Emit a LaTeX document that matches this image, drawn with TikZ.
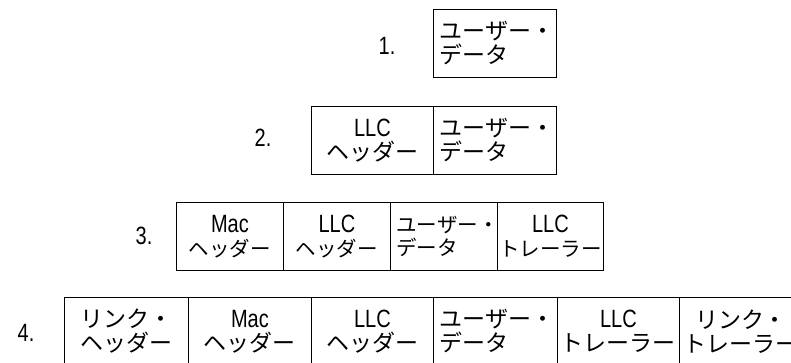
\documentclass[tikz,border=0pt]{standalone}
\usepackage{fontspec}
\setmainfont{Noto Sans CJK JP}
\newfontfamily\latfont[FakeStretch=0.8]{Liberation Sans}
\newcommand{\lt}[1]{{\latfont\fontsize{25}{24}\selectfont #1}}
\begin{document}
\begin{tikzpicture}[x=1pt,y=-1pt,
  cell/.style={draw=black, line width=0.9pt, minimum height=68pt, inner sep=0pt,
    align=center, font=\fontsize{23}{24}\selectfont, anchor=north west},
  lcell/.style={cell, align=left, text width=#1-12pt},
  smalltext/.style={font=\fontsize{20.5}{24}\selectfont},
  num/.style={font=\latfont\fontsize{25}{25}\selectfont, inner sep=0pt}]
\useasboundingbox (0,0) rectangle (791,362);
% row 1
\node[num] (n1) at (387,46) {1.};
\node[lcell=123pt, minimum width=123pt] (r1a) at (433,9) {ユーザー・\\データ};
% row 2
\node[num] (n2) at (263,138) {2.};
\node[cell, minimum width=122pt] (r2a) at (311,106) {\lt{LLC}\\ヘッダー};
\node[lcell=123pt, minimum width=123pt] (r2b) at (433,106) {ユーザー・\\データ};
% row 3
\node[num] (n3) at (144,236) {3.};
\node[cell, smalltext, minimum width=107pt] (r3a) at (176,202) {\lt{Mac}\\ヘッダー};
\node[cell, smalltext, minimum width=107pt] (r3b) at (283,202) {\lt{LLC}\\ヘッダー};
\node[lcell=107pt, smalltext, minimum width=107pt] (r3c) at (390,202) {ユーザー・\\データ};
\node[cell, smalltext, minimum width=106pt] (r3d) at (497,202) {\lt{LLC}\\トレーラー};
% row 4
\node[num] (n4) at (26,333) {4.};
\node[cell, minimum width=124pt] (r4a) at (64,297) {リンク・\\ヘッダー};
\node[cell, minimum width=123pt] (r4b) at (188,297) {\lt{Mac}\\ヘッダー};
\node[cell, minimum width=122pt] (r4c) at (311,297) {\lt{LLC}\\ヘッダー};
\node[lcell=124pt, minimum width=124pt] (r4d) at (433,297) {ユーザー・\\データ};
\node[cell, minimum width=122pt] (r4e) at (557,297) {\lt{LLC}\\トレーラー};
\node[cell, minimum width=123pt] (r4f) at (679,297) {リンク・\\トレーラー};
\end{tikzpicture}
\end{document}
